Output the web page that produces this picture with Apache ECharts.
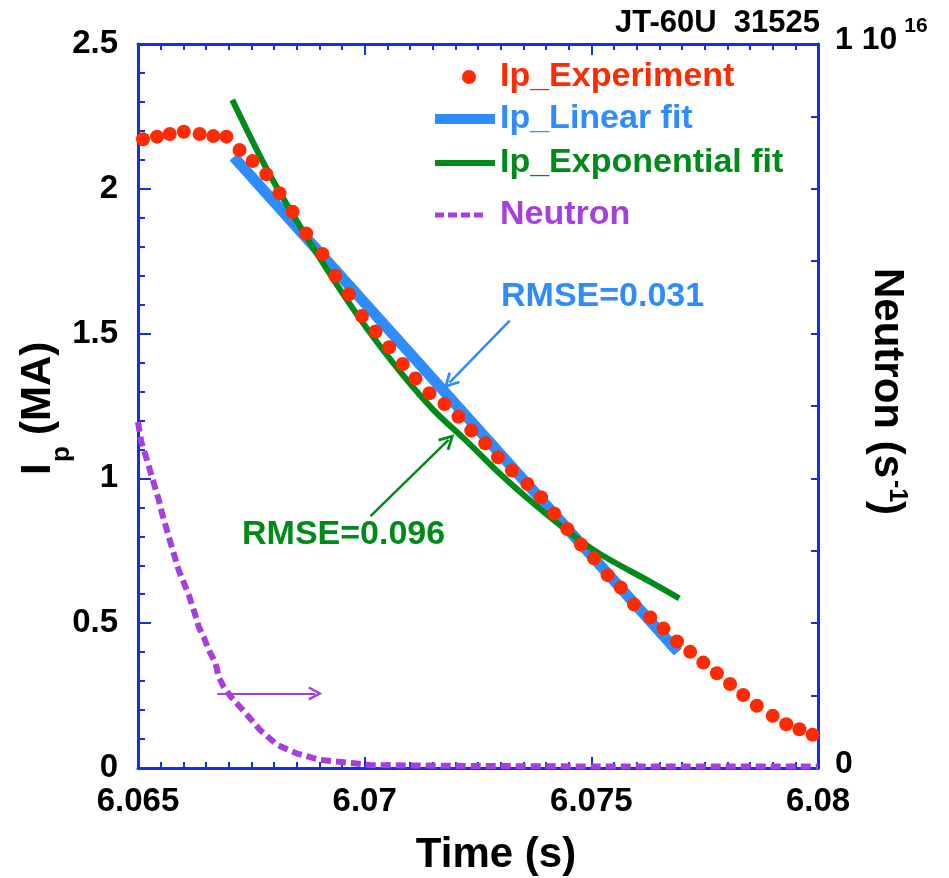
<!DOCTYPE html>
<html>
<head>
<meta charset="utf-8">
<script src="https://cdn.jsdelivr.net/npm/echarts@6/dist/echarts.min.js"></script>
<style>
html,body{margin:0;padding:0;background:#fff;}
#chart{width:949px;height:878px;}
</style>
</head>
<body>
<div id="chart"></div>
<script>
// ---- data ----
const expTime = [6.06511, 6.06542, 6.06570, 6.06601, 6.06636, 6.06666, 6.06695, 6.06724, 6.06753, 6.06783,
  6.06812, 6.06841, 6.06871, 6.06907, 6.06935, 6.06965, 6.06994, 6.07024, 6.07054, 6.07084,
  6.07112, 6.07143, 6.07176, 6.07207, 6.07235, 6.07266, 6.07294, 6.07325, 6.07359, 6.07389,
  6.07418, 6.07447, 6.07477, 6.07506, 6.07536, 6.07565, 6.07594, 6.07630, 6.07659, 6.07689,
  6.07718, 6.07747, 6.07777, 6.07806, 6.07835, 6.07865, 6.07900, 6.07930, 6.07959, 6.07988];
const expIp = [2.171, 2.180, 2.189, 2.197, 2.189, 2.182, 2.180, 2.134, 2.096, 2.050,
  1.985, 1.921, 1.846, 1.775, 1.700, 1.636, 1.561, 1.507, 1.453, 1.395,
  1.345, 1.294, 1.257, 1.213, 1.165, 1.121, 1.073, 1.027, 0.981, 0.935,
  0.879, 0.825, 0.772, 0.724, 0.666, 0.623, 0.565, 0.520, 0.482, 0.437,
  0.401, 0.364, 0.327, 0.290, 0.252, 0.215, 0.180, 0.151, 0.134, 0.115];

const linTime = [6.06711, 6.07691];
const linIp = [2.110, 0.401];

const expoTime = [6.06708, 6.06785, 6.06858, 6.06932, 6.07005, 6.07079, 6.07152, 6.07226, 6.07299, 6.07372, 6.07446, 6.07519, 6.07630, 6.07694];
const expoIp = [2.307, 2.065, 1.869, 1.685, 1.518, 1.367, 1.236, 1.127, 1.015, 0.914, 0.820, 0.739, 0.643, 0.586];

const neuTime = [6.06500, 6.06507, 6.06520, 6.06535, 6.06546, 6.06553, 6.06568, 6.06579, 6.06590, 6.06612,
  6.06623, 6.06634, 6.06645, 6.06656, 6.06671, 6.06678, 6.06689, 6.06704, 6.06737, 6.06770,
  6.06807, 6.06851, 6.06902, 6.06976, 6.07012, 6.07189, 6.07519, 6.08000];
const neuRate = [4.78e15, 4.51e15, 4.25e15, 3.93e15, 3.70e15, 3.52e15, 3.19e15, 2.96e15, 2.73e15, 2.39e15,
  2.18e15, 1.95e15, 1.81e15, 1.63e15, 1.45e15, 1.26e15, 1.12e15, 0.99e15, 0.76e15, 0.52e15,
  0.32e15, 0.20e15, 0.11e15, 0.065e15, 0.04e15, 0.03e15, 0.02e15, 0.02e15];

const xTicks = {min: 6.065, max: 6.080, step: 0.005};
const ipTicks = {min: 0, max: 2.5, step: 0.5};
const neuTicks = {min: 0, max: 1e16, step: 1e15};

// annotation arrows (data coordinates)
const arrowLinear = [[6.07320, 1.545], [6.07187, 1.331]];
const arrowExpo = [[6.07013, 0.870], [6.07185, 1.133]];
const arrowNeutron = [[6.06675, 1.03e15], [6.06891, 1.03e15]];

// ---- style ----
const FONT = '"Liberation Sans", Arial, Helvetica, sans-serif';
const AXIS = '#1530dd';
const RED = '#ff2a00';
const BLUE = '#2e8cff';
const GREEN = '#008a19';
const PURPLE = '#a73fdc';
const CHEVRON = 'path://M6,0 L12,11 L10.2,12 L6,4.2 L1.8,12 L0,11 Z';
const DASH_ICON = 'path://M0,0h9v5h-9z M13,0h9v5h-9z M26,0h9v5h-9z M39,0h9v5h-9z';

const zip = (a, b) => a.map((v, i) => [v, b[i]]);

const chart = echarts.init(document.getElementById('chart'), null, {renderer: 'canvas'});

const baseAxisLine = {show: true, onZero: false, lineStyle: {color: AXIS, width: 3}};

function legendFor(name, color, left, top, icon, w, h, textPad) {
  return {
    data: [{name: name, icon: icon}], left: left, top: top, orient: 'horizontal',
    itemWidth: w, itemHeight: h, selectedMode: false, padding: 0,
    textStyle: {color: color, fontSize: 34, fontWeight: 'bold', fontFamily: FONT, lineHeight: 40,
      padding: [0, 0, 0, textPad]}
  };
}

function txt(text, x, y, size) {
  return {
    type: 'text', x: x, y: y, silent: true,
    style: {text: text, fill: '#000', font: 'bold ' + size + 'px ' + FONT,
      textAlign: 'left', textVerticalAlign: 'middle', align: 'left', verticalAlign: 'middle'}
  };
}

const option = {
  animation: false,
  backgroundColor: '#fff',
  grid: {left: 138, right: 131, top: 44, bottom: 110, containLabel: false, outerBoundsMode: 'none'},
  legend: [
    legendFor('Ip_Experiment', RED, 462, 57, 'circle', 14, 14, 19),
    legendFor('Ip_Linear fit', BLUE, 435, 99, 'rect', 60, 10, 0),
    legendFor('Ip_Exponential fit', GREEN, 435, 143, 'rect', 60, 6, 0),
    legendFor('Neutron', PURPLE, 435, 195, DASH_ICON, 48, 5, 12)
  ],
  xAxis: [{
    type: 'value', position: 'bottom', min: xTicks.min, max: xTicks.max, interval: xTicks.step,
    axisLine: baseAxisLine,
    axisTick: {show: true, inside: true, length: 11, lineStyle: {color: AXIS, width: 2}},
    minorTick: {show: true, splitNumber: 10, length: 6, lineStyle: {color: AXIS, width: 2}},
    splitLine: {show: false},
    axisLabel: {margin: 17, color: '#000', fontSize: 33, fontWeight: 'bold', fontFamily: FONT,
      formatter: v => String(parseFloat(v.toFixed(3)))},
    name: 'Time (s)', nameLocation: 'middle', nameGap: 66, nameMoveOverlap: false,
    nameTextStyle: {color: '#000', fontSize: 42, fontWeight: 'bold', fontFamily: FONT, padding: [0, 0, 0, 36]}
  }, {
    type: 'value', position: 'top', min: xTicks.min, max: xTicks.max, interval: xTicks.step,
    axisLine: baseAxisLine,
    axisTick: {show: true, inside: true, length: 11, lineStyle: {color: AXIS, width: 2}},
    minorTick: {show: true, splitNumber: 10, length: 6, lineStyle: {color: AXIS, width: 2}},
    splitLine: {show: false},
    axisLabel: {show: false}
  }],
  yAxis: [{
    type: 'value', position: 'left', min: ipTicks.min, max: ipTicks.max, interval: ipTicks.step,
    axisLine: baseAxisLine,
    axisTick: {show: true, inside: true, length: 13, lineStyle: {color: AXIS, width: 2}},
    minorTick: {show: true, splitNumber: 5, length: 7, lineStyle: {color: AXIS, width: 2}},
    splitLine: {show: false},
    axisLabel: {margin: 20, color: '#000', fontSize: 33, fontWeight: 'bold', fontFamily: FONT}
  }, {
    type: 'value', position: 'right', min: neuTicks.min, max: neuTicks.max, interval: neuTicks.step,
    axisLine: baseAxisLine,
    axisTick: {show: true, inside: true, length: 7, lineStyle: {color: AXIS, width: 2}},
    splitLine: {show: false},
    axisLabel: {
      margin: 17, color: '#000', fontSize: 32, fontWeight: 'bold', fontFamily: FONT,
      padding: [0, 0, 8, 0],
      formatter: v => v === 0 ? '0' : (v >= neuTicks.max ? '{a|1 10}{s|16}' : ''),
      rich: {
        a: {fontSize: 32, fontWeight: 'bold', fontFamily: FONT, color: '#000', lineHeight: 48, verticalAlign: 'middle'},
        s: {fontSize: 21, fontWeight: 'bold', fontFamily: FONT, color: '#000', lineHeight: 21, verticalAlign: 'top', padding: [0, 0, 0, 7]}
      }
    }
  }],
  series: [{
    name: 'Neutron', type: 'line', xAxisIndex: 0, yAxisIndex: 1, z: 1,
    data: zip(neuTime, neuRate), symbol: 'none', smooth: false,
    lineStyle: {color: PURPLE, width: 6, type: [10, 5]},
    itemStyle: {color: PURPLE},
    markLine: {
      silent: true, symbol: ['none', CHEVRON], symbolSize: 14,
      label: {show: false},
      lineStyle: {color: PURPLE, width: 2, type: 'solid'},
      data: [[{coord: arrowNeutron[0]}, {coord: arrowNeutron[1]}]]
    }
  }, {
    name: 'Ip_Linear fit', type: 'line', xAxisIndex: 0, yAxisIndex: 0, z: 2,
    data: zip(linTime, linIp), symbol: 'none',
    lineStyle: {color: BLUE, width: 11},
    itemStyle: {color: BLUE},
    markLine: {
      silent: true, symbol: ['none', CHEVRON], symbolSize: 16,
      label: {show: false},
      lineStyle: {color: BLUE, width: 2.5, type: 'solid'},
      data: [[{coord: arrowLinear[0]}, {coord: arrowLinear[1]}]]
    }
  }, {
    name: 'Ip_Exponential fit', type: 'line', xAxisIndex: 0, yAxisIndex: 0, z: 3,
    data: zip(expoTime, expoIp), symbol: 'none', smooth: 0.3,
    lineStyle: {color: GREEN, width: 6},
    itemStyle: {color: GREEN},
    markLine: {
      silent: true, symbol: ['none', CHEVRON], symbolSize: 16,
      label: {show: false},
      lineStyle: {color: GREEN, width: 2.5, type: 'solid'},
      data: [[{coord: arrowExpo[0]}, {coord: arrowExpo[1]}]]
    }
  }, {
    name: 'Ip_Experiment', type: 'scatter', xAxisIndex: 0, yAxisIndex: 0, z: 4,
    data: zip(expTime, expIp), symbol: 'circle', symbolSize: 14,
    itemStyle: {color: RED, opacity: 1}
  }],
  graphic: [{
    type: 'text', right: 949 - 820, top: 8,
    style: {text: 'JT-60U  31525', fill: '#000', font: 'bold 31px ' + FONT}
  }, {
    type: 'text', left: 501, top: 280,
    style: {text: 'RMSE=0.031', fill: BLUE, font: 'bold 34px ' + FONT}
  }, {
    type: 'text', left: 242, top: 518,
    style: {text: 'RMSE=0.096', fill: GREEN, font: 'bold 34px ' + FONT}
  }, {
    // left axis title: I_p (MA), rotated to read bottom-to-top
    type: 'group', x: 53, y: 475, rotation: Math.PI / 2,
    children: [
      txt('I', 0, -14.6, 42),
      txt('p', 13, 9, 26),
      txt('(MA)', 40, -14.6, 42)
    ]
  }, {
    // right axis title: Neutron (s^-1), rotated to read top-to-bottom
    type: 'group', x: 872, y: 268, rotation: -Math.PI / 2,
    children: [
      txt('Neutron (s', 0, -14.6, 42),
      txt('-1', 212, -25, 25),
      txt(')', 233, -14.6, 42)
    ]
  }]
};

chart.setOption(option);
</script>
</body>
</html>
